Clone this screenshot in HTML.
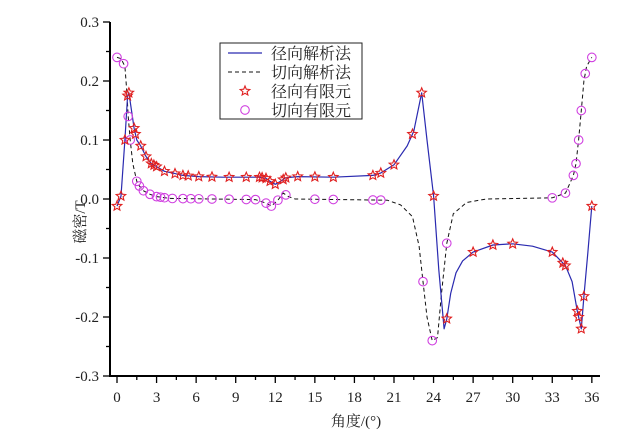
<!DOCTYPE html>
<html><head><meta charset="utf-8"><style>
body{margin:0;background:#fff}
svg text{font-family:"Liberation Serif","Noto Serif CJK SC",serif;fill:#222}
</style></head><body>
<svg id="s" width="640" height="439" xmlns="http://www.w3.org/2000/svg"></svg>
<script>
const s=document.getElementById('s');
const X=d=>117+d*13.19, Y=v=>199-v*590;
let h='';
h+=`<line x1="110" y1="22" x2="110" y2="376.5" stroke="#000" stroke-width="2"/>`;
h+=`<line x1="109" y1="376" x2="600" y2="376" stroke="#000" stroke-width="2"/>`;
for(let i=0;i<=12;i++){const v=-0.3+i*0.05,y=Y(v),maj=i%2==0;
 h+=`<line x1="${maj?103:106}" y1="${y}" x2="110" y2="${y}" stroke="#000" stroke-width="1.3"/>`;
 if(maj)h+=`<text x="99" y="${y+5}" font-size="15" text-anchor="end">${v.toFixed(1).replace('-0.0','0.0')}</text>`;}
for(let i=0;i<=24;i++){const d=i*1.5,x=X(d),maj=i%2==0;
 h+=`<line x1="${x}" y1="376" x2="${x}" y2="${maj?383:380}" stroke="#000" stroke-width="1.3"/>`;
 if(maj)h+=`<text x="${x}" y="402" font-size="15" text-anchor="middle">${d}</text>`;}
h+=`<text x="356" y="426" font-size="15" text-anchor="middle">角度/(°)</text>`;
h+=`<text transform="translate(85,222) rotate(-90)" font-size="15" text-anchor="middle">磁密/T</text>`;
const R=[[0,-0.012],[0.3,0.005],[0.6,0.1],[0.8,0.175],[0.9,0.18],[1.1,0.15],[1.3,0.12],[1.5,0.1],[1.8,0.09],[2.2,0.072],[2.6,0.06],[3,0.055],[3.6,0.047],[4.4,0.043],[5,0.04],[6.2,0.038],[8,0.037],[10.8,0.037],[11.3,0.035],[11.6,0.03],[12,0.025],[12.4,0.03],[12.8,0.036],[13.7,0.038],[16.4,0.037],[19.4,0.04],[20,0.044],[21,0.058],[22,0.09],[22.5,0.115],[23.1,0.18],[23.5,0.1],[24,0.005],[24.4,-0.12],[24.8,-0.22],[25,-0.203],[25.3,-0.16],[25.7,-0.125],[26.2,-0.105],[27,-0.09],[28.5,-0.078],[30,-0.076],[31.5,-0.08],[33,-0.09],[34,-0.113],[34.5,-0.14],[34.9,-0.19],[35.2,-0.22],[35.4,-0.165],[35.7,-0.09],[36,-0.012]];
const T=[[0,0.24],[0.3,0.238],[0.6,0.225],[0.75,0.18],[0.85,0.14],[1,0.1],[1.2,0.06],[1.5,0.03],[1.7,0.022],[2,0.014],[2.5,0.008],[3,0.004],[4,0.001],[10.5,-0.001],[11.3,-0.007],[11.7,-0.012],[12.2,-0.002],[12.6,0.01],[13,0.004],[13.5,0],[20.5,-0.002],[21.5,-0.01],[22.4,-0.03],[22.9,-0.08],[23.2,-0.14],[23.5,-0.2],[23.9,-0.24],[24.3,-0.235],[24.6,-0.16],[25,-0.075],[25.5,-0.025],[26.5,-0.006],[28,0],[33,0.002],[34,0.01],[34.6,0.04],[34.8,0.06],[35,0.1],[35.2,0.15],[35.4,0.2],[35.6,0.225],[36,0.24]];
function f(P,d){for(let i=1;i<P.length;i++)if(d<=P[i][0]){const a=P[i-1],b=P[i];return a[1]+(b[1]-a[1])*(d-a[0])/(b[0]-a[0]);}return P[P.length-1][1];}
const pts=P=>P.map(p=>X(p[0]).toFixed(1)+','+Y(p[1]).toFixed(1)).join(' ');
h+=`<polyline points="${pts(T)}" fill="none" stroke="#111" stroke-width="1" stroke-dasharray="4,3"/>`;
h+=`<polyline points="${pts(R)}" fill="none" stroke="#2a2ab0" stroke-width="1.2" stroke-linejoin="round"/>`;
const cd=[0,0.5,0.85,1,1.5,1.7,2,2.5,3,3.3,3.6,4.2,5,5.6,6.2,7.2,8.5,9.8,10.5,11.3,11.7,12.2,12.8,15,16.4,19.4,20,23.2,23.9,25,33,34,34.6,34.8,35,35.2,35.5,36];
cd.forEach(d=>h+=`<circle cx="${X(d)}" cy="${Y(f(T,d))}" r="4.3" fill="none" stroke="#d040e0" stroke-width="1.1"/>`);
function star(cx,cy,r){let p=[];for(let i=0;i<10;i++){const a=-Math.PI/2+i*Math.PI/5,rr=i%2?r*0.45:r;p.push((cx+rr*Math.cos(a)).toFixed(1)+','+(cy+rr*Math.sin(a)).toFixed(1));}return `<polygon points="${p.join(' ')}" fill="none" stroke="#e02020" stroke-width="1.1"/>`;}
const sd=[0,0.3,0.6,0.8,0.9,1.3,1.4,1.8,2.2,2.6,2.8,3,3.6,4.4,5,5.4,6.2,7.2,8.5,9.8,10.8,11,11.3,11.6,12,12.6,12.8,13.7,15,16.4,19.4,20,21,22.4,23.1,24,25,27,28.5,30,33,33.8,34,34.9,35,35.2,35.4,36];
sd.forEach(d=>h+=star(X(d),Y(f(R,d)),5));
h+=`<rect x="220" y="43" width="142" height="76" fill="#fff" stroke="#222" stroke-width="1"/>`;
h+=`<line x1="228" y1="53" x2="262" y2="53" stroke="#2a2ab0" stroke-width="1.2"/>`;
h+=`<line x1="228" y1="72" x2="262" y2="72" stroke="#111" stroke-dasharray="4,3"/>`;
h+=star(245,91,5);
h+=`<circle cx="245" cy="110" r="4.3" fill="none" stroke="#d040e0" stroke-width="1.1"/>`;
['径向解析法','切向解析法','径向有限元','切向有限元'].forEach((t,i)=>h+=`<text x="271" y="${59+i*19}" font-size="16">${t}</text>`);
s.innerHTML=h;
</script>
</body></html>
